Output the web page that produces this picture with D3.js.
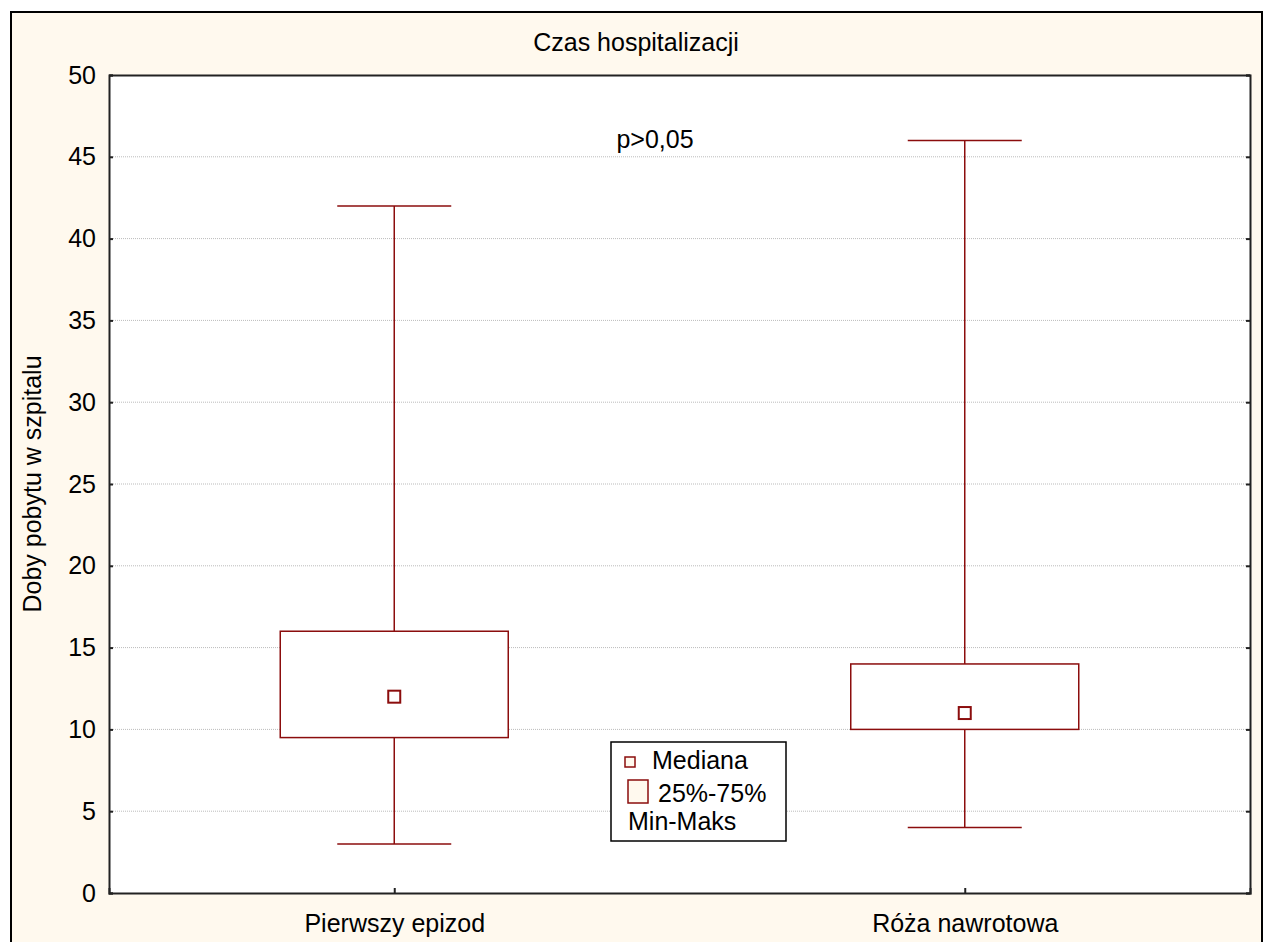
<!DOCTYPE html>
<html>
<head>
<meta charset="utf-8">
<script src="https://cdn.jsdelivr.net/npm/d3@7"></script>
<style>
  body { margin: 0; background: #fff; }
  svg { display: block; font-family: "Liberation Sans", Arial, sans-serif; }
</style>
</head>
<body>
<svg id="chart" width="1268" height="942"></svg>
<script>
// data
var categories = ["Pierwszy epizod", "Róża nawrotowa"];
var minVals = [3, 4];
var q1Vals = [9.5, 10];
var medianVals = [12, 11];
var q3Vals = [16, 14];
var maxVals = [42, 46];
var yTicks = [0, 5, 10, 15, 20, 25, 30, 35, 40, 45, 50];

var DARK_RED = "#8b0d0d";
var CREAM = "#fff9ee";
var FS = 25;

var svg = d3.select("#chart");

var margin = { left: 109, top: 75, right: 1250, bottom: 893 };

// outer frame
svg.append("rect")
   .attr("x", 11).attr("y", 12)
   .attr("width", 1251).attr("height", 940)
   .attr("fill", CREAM)
   .attr("stroke", "#000").attr("stroke-width", 2);

svg.append("rect")
   .attr("x", margin.left).attr("y", margin.top)
   .attr("width", margin.right - margin.left)
   .attr("height", margin.bottom - margin.top)
   .attr("fill", "#fff");

var y = d3.scaleLinear().domain([0, 50]).range([margin.bottom, margin.top]);
var x = d3.scalePoint().domain(categories).range([margin.left, margin.right]).padding(0.5);
var boxW = 228;

// grid
svg.append("g").selectAll("line")
   .data(yTicks.filter(function(d){ return d > 0 && d < 50; }))
   .enter().append("line")
   .attr("x1", margin.left).attr("x2", margin.right)
   .attr("y1", function(d){ return y(d); })
   .attr("y2", function(d){ return y(d); })
   .attr("stroke", "#bbb").attr("stroke-width", 1)
   .attr("stroke-dasharray", "1,1");

// axes
var leftAxis = d3.axisLeft(y).tickValues(yTicks).tickSize(-4).tickPadding(13);
var gl = svg.append("g").attr("transform", "translate(" + margin.left + ",0)").call(leftAxis);
gl.selectAll("text").attr("font-size", FS).attr("fill", "#000")
  .attr("font-family", "Liberation Sans, Arial, sans-serif");

var rightAxis = d3.axisRight(y).tickValues(yTicks).tickSize(-4).tickFormat("");
svg.append("g").attr("transform", "translate(" + margin.right + ",0)").call(rightAxis);

var bottomAxis = d3.axisBottom(x).tickSize(-5).tickPadding(21);
var gb = svg.append("g").attr("transform", "translate(0," + margin.bottom + ")").call(bottomAxis);
gb.selectAll("text").attr("font-size", FS).attr("fill", "#000")
  .attr("font-family", "Liberation Sans, Arial, sans-serif");

var topAxis = d3.axisTop(x).tickSize(0).tickFormat("");
svg.append("g").attr("transform", "translate(0," + margin.top + ")").call(topAxis);

svg.selectAll(".domain").attr("stroke", "#222").attr("stroke-width", 2);
svg.selectAll(".tick line").attr("stroke", "#222").attr("stroke-width", 2);

// boxes
var rows = categories.map(function(c, i){
  return { cat: c, min: minVals[i], q1: q1Vals[i], med: medianVals[i], q3: q3Vals[i], max: maxVals[i] };
});

var g = svg.append("g").selectAll("g").data(rows).enter().append("g");

g.append("line")
 .attr("x1", function(d){ return x(d.cat); }).attr("x2", function(d){ return x(d.cat); })
 .attr("y1", function(d){ return y(d.max); }).attr("y2", function(d){ return y(d.q3); })
 .attr("stroke", DARK_RED).attr("stroke-width", 1.5);
g.append("line")
 .attr("x1", function(d){ return x(d.cat); }).attr("x2", function(d){ return x(d.cat); })
 .attr("y1", function(d){ return y(d.q1); }).attr("y2", function(d){ return y(d.min); })
 .attr("stroke", DARK_RED).attr("stroke-width", 1.5);

["max", "min"].forEach(function(k){
  g.append("line")
   .attr("x1", function(d){ return x(d.cat) - boxW / 4; })
   .attr("x2", function(d){ return x(d.cat) + boxW / 4; })
   .attr("y1", function(d){ return y(d[k]); })
   .attr("y2", function(d){ return y(d[k]); })
   .attr("stroke", DARK_RED).attr("stroke-width", 1.5);
});

g.append("rect")
 .attr("x", function(d){ return x(d.cat) - boxW / 2; })
 .attr("y", function(d){ return y(d.q3); })
 .attr("width", boxW)
 .attr("height", function(d){ return y(d.q1) - y(d.q3); })
 .attr("fill", "#fff").attr("stroke", DARK_RED).attr("stroke-width", 1.5);

g.append("rect")
 .attr("x", function(d){ return x(d.cat) - 6; })
 .attr("y", function(d){ return y(d.med) - 6; })
 .attr("width", 12).attr("height", 12)
 .attr("fill", "#fff").attr("stroke", DARK_RED).attr("stroke-width", 2);

// title, labels
svg.append("text").attr("x", 636).attr("y", 51).attr("text-anchor", "middle")
   .attr("font-size", FS).text("Czas hospitalizacji");

svg.append("text").attr("transform", "translate(41," + ((margin.top + margin.bottom) / 2) + ") rotate(-90)")
   .attr("text-anchor", "middle").attr("font-size", FS).text("Doby pobytu w szpitalu");

svg.append("text").attr("x", 655).attr("y", 148).attr("text-anchor", "middle")
   .attr("font-size", FS).text("p>0,05");

// legend
var lg = svg.append("g").attr("transform", "translate(611,742)");
lg.append("rect").attr("width", 175).attr("height", 99)
  .attr("fill", "#fff").attr("stroke", "#000").attr("stroke-width", 1.5);
lg.append("rect").attr("x", 14).attr("y", 15).attr("width", 10).attr("height", 10)
  .attr("fill", CREAM).attr("stroke", DARK_RED).attr("stroke-width", 1.5);
lg.append("text").attr("x", 41).attr("y", 27).attr("font-size", FS).text("Mediana");
lg.append("rect").attr("x", 17).attr("y", 38).attr("width", 20).attr("height", 23)
  .attr("fill", CREAM).attr("stroke", DARK_RED).attr("stroke-width", 1.5);
lg.append("text").attr("x", 47).attr("y", 60).attr("font-size", FS).text("25%-75%");
lg.append("text").attr("x", 17).attr("y", 88).attr("font-size", FS).text("Min-Maks");
</script>
</body>
</html>
